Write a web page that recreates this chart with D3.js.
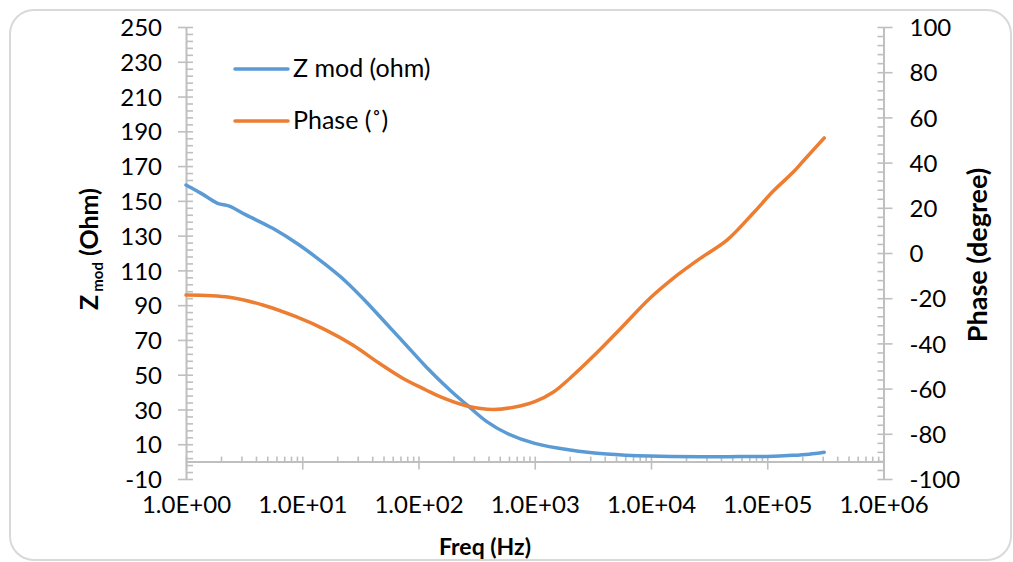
<!DOCTYPE html>
<html>
<head>
<meta charset="utf-8">
<script src="https://cdn.jsdelivr.net/npm/d3@7"></script>
<style>
  body { margin: 0; background: #fff; }
  svg text { font-family: Lato, "Noto Sans", sans-serif; fill: #000; }
</style>
</head>
<body>
<svg id="chart" width="1013" height="562"></svg>
<script>
// Z mod curve (left axis)
const zFreq = [1, 1.35, 1.87, 2.36, 3.28, 5.57, 9.43, 16, 23.8, 35.4, 52.5, 78.1, 116, 186, 261, 387, 575, 1000, 2020, 4170, 9840, 26500, 58000, 100000, 165000, 230000, 309000];
const zMod  = [159.1, 154.3, 148.6, 147, 141.9, 134.2, 124.6, 113.1, 103.5, 92, 79.6, 67.1, 54.6, 41.2, 32.6, 23, 16.3, 10.5, 6.7, 4.4, 3.2, 2.8, 2.9, 3.0, 3.6, 4.3, 5.4];

// Phase curve (right axis)
const pFreq = [1, 2.36, 4.57, 8.84, 16, 27.2, 46, 73.1, 116, 153, 261, 441, 748, 1000, 1450, 2020, 3200, 5430, 9840, 15600, 20400, 26500, 45300, 75900, 112800, 167500, 204000, 309000];
const phase = [-18.6, -19.6, -23, -28.2, -34.1, -40.7, -48.8, -55.4, -60.6, -63.6, -67.7, -69.2, -67.7, -65.8, -61.5, -55.3, -45.6, -33.6, -19.9, -11.1, -6.6, -2.4, 5.8, 17.7, 27.4, 35.8, 40.7, 50.9];

// ticks
const xTicks = [1, 10, 100, 1000, 10000, 100000, 1000000];
const xLabels = ["1.0E+00", "1.0E+01", "1.0E+02", "1.0E+03", "1.0E+04", "1.0E+05", "1.0E+06"];
const leftTicks = [-10, 10, 30, 50, 70, 90, 110, 130, 150, 170, 190, 210, 230, 250];
const rightTicks = [-100, -80, -60, -40, -20, 0, 20, 40, 60, 80, 100];

const seriesNames = ["Z mod (ohm)", "Phase (˚)"];
const colors = ["#5b9bd5", "#ed7d31"];
const axisColor = "#bfbfbf";

const svg = d3.select("#chart");

// outer frame
svg.append("rect")
  .attr("x", 10).attr("y", 10)
  .attr("width", 1001).attr("height", 550)
  .attr("rx", 24).attr("ry", 24)
  .attr("fill", "#fff")
  .attr("stroke", "#d9d9d9")
  .attr("stroke-width", 2);

const x = d3.scaleLog().domain([1, 1e6]).range([186, 883.5]);
const yL = d3.scaleLinear().domain([-10, 250]).range([479, 27]);
const yR = d3.scaleLinear().domain([-100, 100]).range([479, 27]);

let leftMinor = [], rightMinor = [], xMinor = [];
for (let v = -10; v <= 250; v += 4) if (!leftTicks.includes(v)) leftMinor.push(v);
for (let v = -100; v <= 100; v += 4) if (!rightTicks.includes(v)) rightMinor.push(v);
for (let k = 0; k < 6; k++)
  for (let m = 2; m <= 9; m++) xMinor.push(m * Math.pow(10, k));

function styleAxis(g) {
  g.select(".domain").attr("stroke", axisColor).attr("stroke-width", 2);
  g.selectAll(".tick line").attr("stroke", axisColor).attr("stroke-width", 1.6);
  g.selectAll("text").attr("font-size", 24).attr("fill", "#000");
}

// left axis (plain hyphen minus like the original)
const gL = svg.append("g").attr("transform", "translate(186,0)");
gL.call(d3.axisLeft(yL).tickValues(leftTicks).tickSize(8).tickSizeOuter(0).tickPadding(16)
    .tickFormat(d => String(d)))
  .call(styleAxis);
gL.selectAll(".tick line").attr("x2", -8).attr("x1", 7);
gL.selectAll(".tick text").attr("dy", "0.36em");
svg.append("g").attr("transform", "translate(186,0)")
  .call(d3.axisRight(yL).tickValues(leftMinor).tickSize(7).tickFormat(""))
  .call(styleAxis)
  .select(".domain").remove();

// right axis
const gR = svg.append("g").attr("transform", "translate(883.5,0)");
gR.call(d3.axisRight(yR).tickValues(rightTicks).tickSize(9).tickSizeOuter(0).tickPadding(17)
    .tickFormat(d => String(d)))
  .call(styleAxis);
gR.selectAll(".tick line").attr("x1", -6);
gR.selectAll(".tick text").attr("dy", "0.36em");
svg.append("g").attr("transform", "translate(883.5,0)")
  .call(d3.axisLeft(yR).tickValues(rightMinor).tickSize(6).tickFormat(""))
  .call(styleAxis)
  .select(".domain").remove();

// x axis crossing at 0 of left axis
const x0 = yL(0);
const gX = svg.append("g").attr("transform", `translate(0,${x0})`);
gX.call(d3.axisBottom(x).tickValues(xTicks).tickSize(8).tickSizeOuter(0)
    .tickFormat((d, i) => xLabels[i]))
  .call(styleAxis);
gX.selectAll(".tick line").attr("y1", -5);
gX.selectAll(".tick text").attr("y", 51).attr("dy", 0);
svg.append("g").attr("transform", `translate(0,${x0})`)
  .call(d3.axisTop(x).tickValues(xMinor).tickSize(5).tickFormat(""))
  .call(styleAxis)
  .select(".domain").remove();

// lines
const zLine = d3.line()
  .x((d, i) => x(zFreq[i]))
  .y(d => yL(d))
  .curve(d3.curveCatmullRom.alpha(0.5));
const pLine = d3.line()
  .x((d, i) => x(pFreq[i]))
  .y(d => yR(d))
  .curve(d3.curveCatmullRom.alpha(0.5));

svg.append("path").datum(zMod)
  .attr("d", zLine)
  .attr("fill", "none").attr("stroke", colors[0])
  .attr("stroke-width", 3.5).attr("stroke-linecap", "round");
svg.append("path").datum(phase)
  .attr("d", pLine)
  .attr("fill", "none").attr("stroke", colors[1])
  .attr("stroke-width", 3.5).attr("stroke-linecap", "round");

// legend
const legend = svg.append("g");
seriesNames.forEach((name, i) => {
  const ly = 69 + i * 52;
  legend.append("line")
    .attr("x1", 235).attr("x2", 288).attr("y1", ly).attr("y2", ly)
    .attr("stroke", colors[i]).attr("stroke-width", 3.5).attr("stroke-linecap", "round");
  legend.append("text")
    .attr("x", 293).attr("y", ly + 8)
    .attr("font-size", 25)
    .text(name);
});

// axis titles
svg.append("text")
  .attr("x", 485).attr("y", 555)
  .attr("text-anchor", "middle")
  .attr("font-size", 23).attr("font-weight", "bold")
  .text("Freq (Hz)");

const zt = svg.append("text")
  .attr("transform", "translate(98,249) rotate(-90)")
  .attr("text-anchor", "middle")
  .attr("font-size", 25).attr("font-weight", "bold");
zt.append("tspan").text("Z");
zt.append("tspan").attr("font-size", 15).attr("dy", 5).attr("dx", 3).text("mod");
zt.append("tspan").attr("dy", -5).text(" (Ohm)");

svg.append("text")
  .attr("transform", "translate(987,255) rotate(-90)")
  .attr("text-anchor", "middle")
  .attr("font-size", 27).attr("font-weight", "bold")
  .text("Phase (degree)");
</script>
</body>
</html>
